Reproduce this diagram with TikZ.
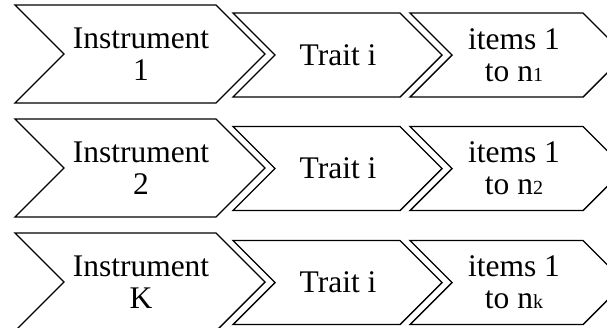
\documentclass[tikz,border=0pt]{standalone}
\usepackage{fontspec}
\setmainfont{Liberation Serif}
% chevron: left x, top-right x, centre y, half height
\newcommand\chevshape[4]{%
  \draw[arrowbox] (#1,#3-#4) -- (#2,#3-#4) -- (#2+#4,#3) -- (#2,#3+#4)
    -- (#1,#3+#4) -- (#1+#4,#3) -- cycle;}
\newcommand\smallidx[1]{{\fontsize{20}{20}\selectfont #1}}
\begin{document}
\begin{tikzpicture}[x=1pt,y=-1pt,
  arrowbox/.style={draw=black, line width=1.4pt, line join=miter, fill=white},
  lbl/.style={align=center, inner sep=0pt, font=\fontsize{31.5}{32}\selectfont}]
\useasboundingbox (0,0) rectangle (607,327);
\clip (0,0) rectangle (607,327);

% row 1
\chevshape{15}{216}{54}{49}
\chevshape{233}{400}{55}{42}
\chevshape{410}{583}{55}{42}
\node[lbl] (inst1)  at (141,54) {Instrument\\1};
\node[lbl] (trait1) at (338,55) {Trait i};
\node[lbl] (items1) at (514,55) {items 1\\to n\smallidx{1}};

% row 2
\chevshape{15}{216}{168}{49}
\chevshape{233}{400}{168.5}{42}
\chevshape{410}{583}{168.5}{42}
\node[lbl] (inst2)  at (141,168) {Instrument\\2};
\node[lbl] (trait2) at (338,168.5) {Trait i};
\node[lbl] (items2) at (514,168.5) {items 1\\to n\smallidx{2}};

% row 3
\chevshape{15}{216}{282}{49}
\chevshape{233}{400}{282.5}{42}
\chevshape{410}{583}{282.5}{42}
\node[lbl] (instK)  at (141,282) {Instrument\\K};
\node[lbl] (traitK) at (338,282.5) {Trait i};
\node[lbl] (itemsK) at (514,282.5) {items 1\\to n\smallidx{k}};
\end{tikzpicture}
\end{document}
